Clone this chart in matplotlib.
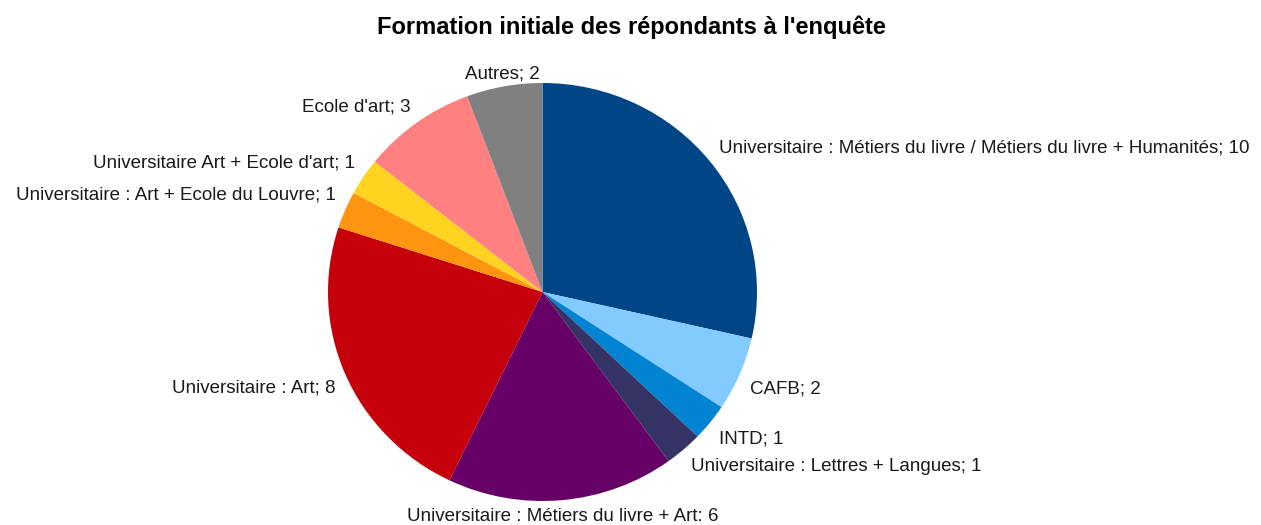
import matplotlib
matplotlib.use("Agg")
import matplotlib.pyplot as plt
import numpy as np

labels = [
    "Universitaire : Métiers du livre / Métiers du livre + Humanités; 10",
    "CAFB; 2",
    "INTD; 1",
    "Universitaire : Lettres + Langues; 1",
    "Universitaire : Métiers du livre + Art: 6",
    "Universitaire : Art; 8",
    "Universitaire : Art + Ecole du Louvre; 1",
    "Universitaire Art + Ecole d'art; 1",
    "Ecole d'art; 3",
    "Autres; 2",
]
values = [10, 2, 1, 1, 6, 8, 1, 1, 3, 2]
colors = ["#004586", "#83caff", "#0084d1", "#333366", "#660066",
          "#c5000b", "#ff950e", "#ffd320", "#ff8080", "#808080"]
label_dy = [0.024, -0.042, -0.035, -0.03, -0.008, -0.04, 0.045, 0.03, 0.02, -0.01]

plt.rcParams['font.family'] = ['Liberation Sans', 'DejaVu Sans']

W, H = 1261, 525
fig = plt.figure(figsize=(W / 100, H / 100), dpi=100)
cx, cy, rx, ry = 542.5, 292, 214.5, 209
ax = fig.add_axes([(cx - rx) / W, (H - cy - ry) / H, 2 * rx / W, 2 * ry / H])
wedges, _ = ax.pie(values, colors=colors, startangle=90, counterclock=False,
                   radius=1, wedgeprops=dict(linewidth=0))
ax.set_xlim(-1, 1)
ax.set_ylim(-1, 1)
ax.set_aspect('auto')
ax.axis('off')

for w, lab, dy in zip(wedges, labels, label_dy):
    ang = np.deg2rad((w.theta1 + w.theta2) / 2)
    x = 1.05 * np.cos(ang)
    y = 1.07 * np.sin(ang) + dy
    c = np.cos(ang)
    if abs(c) < 0.2:
        ha = 'center'
    elif c > 0:
        ha = 'left'
    else:
        ha = 'right'
    ax.text(x, y, lab, ha=ha, va='center', fontsize=13.5, color='#1a1a1a',
            clip_on=False)

fig.text(631 / W, 1 - 27 / H, "Formation initiale des répondants à l'enquête",
         ha='center', va='center', fontsize=17, fontweight='bold', color='#000000')

fig.savefig("out.png", dpi=100)
